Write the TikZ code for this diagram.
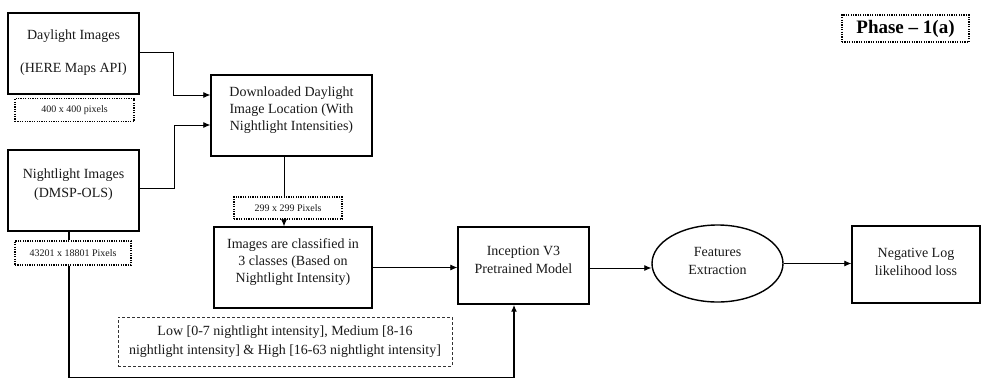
\documentclass[tikz,border=0pt]{standalone}
\usepackage{fontspec}
\setmainfont{Liberation Serif}
\usetikzlibrary{arrows.meta,shapes.geometric,calc}
\begin{document}
\begin{tikzpicture}[x=1pt,y=-1pt,
  box/.style={draw=black,line width=1.4pt,rectangle,inner sep=0pt},
  txt/.style={text=black!90,align=center,inner sep=0pt,font=\fontsize{14}{17}\selectfont},
  dotbox/.style={draw=black,line width=1.3pt,dash pattern=on 1.2pt off 1.2pt,rectangle,inner sep=0pt,text=black!90,font=\fontsize{10}{12}\selectfont},
  dashbox/.style={draw=black!80,line width=0.7pt,dash pattern=on 3pt off 2pt,rectangle,inner sep=0pt},
  conn/.style={draw=black,line width=0.8pt},
  arr/.style={conn,-{Latex[length=7pt,width=6pt]}},
  thickarr/.style={draw=black,line width=1.6pt,-{Latex[length=7pt,width=6pt]}}
]
\useasboundingbox (0,0) rectangle (982,378);

% boxes
\node[box,minimum width=131pt,minimum height=81pt] (day) at (73.5,53.5) {};
\node[txt] (dayT) at (73.5,52.5) {Daylight Images\\[16pt](HERE Maps API)};
\node[dotbox,minimum width=119pt,minimum height=23pt] (l400) at (74.5,110) {400 x 400 pixels};

\node[box,minimum width=131pt,minimum height=81pt] (night) at (73.5,190.5) {};
\node[txt,font=\fontsize{14}{19}\selectfont] (nightT) at (73.5,184.5) {Nightlight Images\\(DMSP-OLS)};
\node[dotbox,minimum width=116pt,minimum height=24pt] (l432) at (73,253) {43201 x 18801 Pixels};

\node[box,minimum width=161pt,minimum height=81pt] (down) at (291.5,115.5) {};
\node[txt] (downT) at (291.5,110) {Downloaded Daylight\\Image Location (With\\Nightlight Intensities)};
\node[dotbox,minimum width=108pt,minimum height=22pt] (l299) at (288,208) {299 x 299 Pixels};

\node[box,minimum width=158pt,minimum height=81pt] (cls) at (293,267.5) {};
\node[txt] (clsT) at (293,262.5) {Images are classified in\\3 classes (Based on\\Nightlight Intensity)};

\node[dashbox,minimum width=334pt,minimum height=49pt] (leg) at (285,341.5) {};
\node[txt,font=\fontsize{14}{19}\selectfont] (legT) at (285,342) {Low [0-7 nightlight intensity], Medium [8-16\\nightlight intensity] \& High [16-63 nightlight intensity]};

\node[box,minimum width=131pt,minimum height=77pt] (inc) at (523.5,265.5) {};
\node[txt,font=\fontsize{14}{18}\selectfont] (incT) at (523.5,259.5) {Inception V3\\Pretrained Model};

\node[draw=black,line width=1.4pt,ellipse,minimum width=131pt,minimum height=77pt,inner sep=0pt] (feat) at (717.5,263.5) {};
\node[txt,font=\fontsize{14}{18}\selectfont] (featT) at (717.5,260.5) {Features\\Extraction};

\node[box,minimum width=128pt,minimum height=77pt] (nll) at (916,264.5) {};
\node[txt,font=\fontsize{14}{18}\selectfont] (nllT) at (916,261.5) {Negative Log\\likelihood loss};

\node[draw=black,line width=1.4pt,dash pattern=on 1.2pt off 1.2pt,rectangle,inner sep=0pt,minimum width=127pt,minimum height=27pt,font=\fontsize{19}{21}\selectfont\bfseries] (phase) at (905.5,28.5) {Phase -- 1(a)};

% connectors
\draw[arr] ([yshift=1.5pt]day.east) -- ++(34,0) |- ([yshift=20.5pt]down.west);
\draw[arr] ([yshift=2.5pt]night.east) -- ++(35,0) |- ([yshift=-9.5pt]down.west);
\draw[conn] ([xshift=-7.5pt]down.south) -- ([xshift=-7.5pt]down.south |- l299.north);
\draw[arr] ([xshift=-7.5pt]down.south |- l299.south) -- ([xshift=-7.5pt]down.south |- cls.north);
\draw[draw=black,line width=1.6pt] ([xshift=-4.5pt]night.south) -- ([xshift=-4.5pt]night.south |- l432.north);
\draw[thickarr] ([xshift=-4pt]l432.south) -- ++(0,112) -| ([xshift=-9.5pt]inc.south);
\draw[arr] (cls.east) -- (cls.east -| inc.west);
\draw[arr] ([yshift=-2.5pt]inc.east) -- ([yshift=-2.5pt]inc.east -| feat.west);
\draw[arr] (feat.east) -- (feat.east -| nll.west);
\end{tikzpicture}
\end{document}
